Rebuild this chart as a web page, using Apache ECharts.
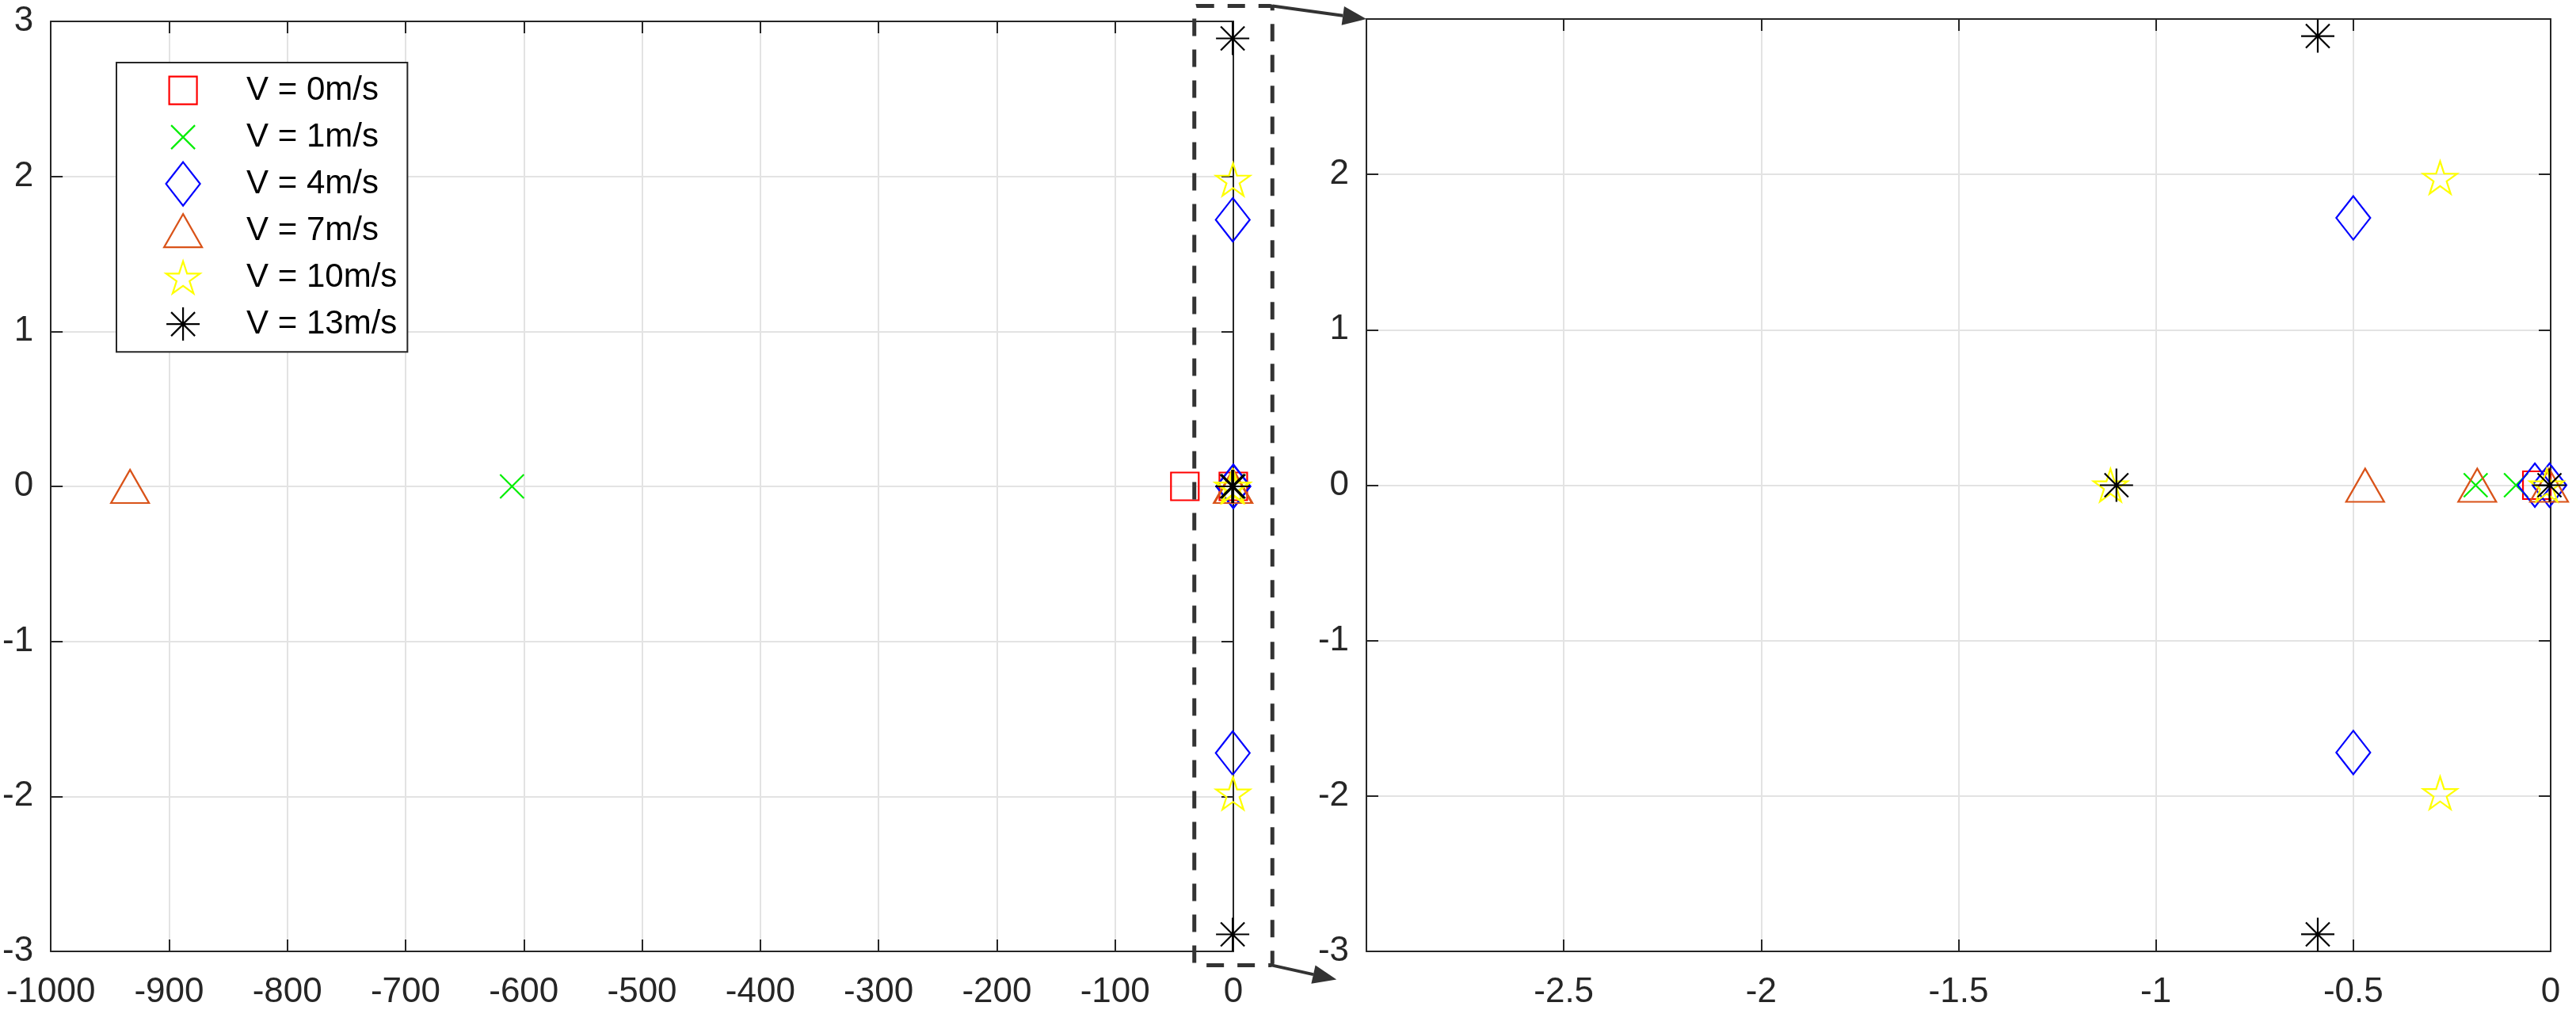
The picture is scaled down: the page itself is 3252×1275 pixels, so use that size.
<!DOCTYPE html>
<html><head><meta charset="utf-8">
<script src="https://cdn.jsdelivr.net/npm/echarts@6/dist/echarts.min.js"></script>
<style>html,body{margin:0;padding:0;background:#fff;overflow:hidden}#c{width:3252px;height:1275px}</style>
</head><body><div id="c"></div>
<script>
// ---------- data ----------
const seriesNames = ['V = 0m/s', 'V = 1m/s', 'V = 4m/s', 'V = 7m/s', 'V = 10m/s', 'V = 13m/s'];
const v0Re = [-41, -0.035];
const v0Im = [0, 0];
const v1Re = [-610, -0.19, -0.088];
const v1Im = [0, 0, 0];
const v4Re = [-0.5, -0.5, -0.04, -0.003];
const v4Im = [1.72, -1.72, 0, 0];
const v7Re = [-933, -0.47, -0.186, -0.004];
const v7Im = [0, 0, 0, 0];
const v10Re = [-1.115, -0.28, -0.28, -0.01];
const v10Im = [0, 1.98, -1.98, 0];
const v13Re = [-1.1, -0.59, -0.59, -0.003];
const v13Im = [0, 2.89, -2.89, 0];
const leftXTicks = [-1000, -900, -800, -700, -600, -500, -400, -300, -200, -100, 0];
const leftYTicks = [-3, -2, -1, 0, 1, 2, 3];
const rightXTicks = [-2.5, -2, -1.5, -1, -0.5, 0];
const rightYTicks = [-3, -2, -1, 0, 1, 2];

// ---------- styles ----------
const colors = ['#ff0000', '#00ee00', '#0000ff', '#d95319', '#ffff00', '#000000'];
const symbols = [
  'rect',
  'path://M0 0L30 30M30 0L0 30',
  'diamond',
  'triangle',
  'path://M50 0L61.23 34.55L97.55 34.55L68.17 55.9L79.39 90.45L50 69.1L20.61 90.45L31.83 55.9L2.45 34.55L38.77 34.55Z',
  'path://M21 0L21 42M0 21L42 21M6 6L36 36M36 6L6 36'
];
const sizes = [35, 30, [43, 55], [48, 42], [43, 41], 42];
const legendIcons = [
  'path://M0 0M56 56M10.5 10.5L45.5 10.5L45.5 45.5L10.5 45.5Z',
  'path://M0 0M56 56M13 13L43 43M43 13L13 43',
  'path://M0 0M56 56M28 0.5L49.5 28L28 55.5L6.5 28Z',
  'path://M0 0M56 56M28 7L52 49L4 49Z',
  'path://M0 0M56 56M28 7.66L33.05 23.21L49.4 23.21L36.18 32.82L41.23 48.36L28 38.76L14.77 48.36L19.82 32.82L6.6 23.21L22.95 23.21Z',
  'path://M0 0M56 56M28 7L28 49M7 28L49 28M13 13L43 43M43 13L13 43'
];
const reArr = [v0Re, v1Re, v4Re, v7Re, v10Re, v13Re];
const imArr = [v0Im, v1Im, v4Im, v7Im, v10Im, v13Im];

const FONT = 'Liberation Sans';
const AX = '#262626';
function fmt(v) { return String(Math.round(v * 100) / 100); }
function inList(list) { return v => list.some(t => Math.abs(t - v) < 1e-9) ? fmt(v) : ''; }

function xAxisCfg(grid, min, max, interval, ticks, pos) {
  const main = pos === 'bottom';
  return {
    type: 'value', gridIndex: grid, min, max, interval, position: pos,
    axisLine: { show: true, onZero: false, lineStyle: { color: AX, width: 2 } },
    axisTick: { show: true, inside: true, length: 15, lineStyle: { color: AX, width: 2 } },
    axisLabel: { show: main, margin: 30, fontFamily: FONT, fontSize: 44, color: AX, formatter: inList(ticks), showMinLabel: true, showMaxLabel: true },
    splitLine: { show: main, lineStyle: { color: '#e3e3e3', width: 2 } }
  };
}
function yAxisCfg(grid, ticks, pos) {
  const main = pos === 'left';
  return {
    type: 'value', gridIndex: grid, min: -3, max: 3, interval: 1, position: pos,
    axisLine: { show: true, onZero: false, lineStyle: { color: AX, width: 2 } },
    axisTick: { show: true, inside: true, length: 15, lineStyle: { color: AX, width: 2 } },
    axisLabel: { show: main, margin: 22, fontFamily: FONT, fontSize: 44, color: AX, formatter: inList(ticks) },
    splitLine: { show: main, lineStyle: { color: '#e3e3e3', width: 2 } }
  };
}

const series = [];
for (let g = 0; g < 2; g++) {
  for (let i = 0; i < seriesNames.length; i++) {
    series.push({
      type: 'scatter', name: seriesNames[i], xAxisIndex: g, yAxisIndex: g,
      data: reArr[i].map((r, k) => [r, imArr[i][k]]),
      symbol: symbols[i], symbolSize: sizes[i], clip: true,
      itemStyle: { color: 'rgba(0,0,0,0)', borderColor: colors[i], borderWidth: 2.2, opacity: 1 },
      emphasis: { disabled: true }, silent: true, animation: false, z: 3
    });
  }
}

const chart = echarts.init(document.getElementById('c'), null, { renderer: 'canvas' });
chart.setOption({
  backgroundColor: '#ffffff',
  animation: false,
  grid: [
    { left: 62, top: 27, width: 1495, height: 1181 },
    { left: 1725, top: 24, width: 1495, height: 1181 }
  ],
  xAxis: [
    xAxisCfg(0, -1000, 0, 100, leftXTicks, 'bottom'),
    xAxisCfg(1, -3, 0, 0.5, rightXTicks, 'bottom'),
    xAxisCfg(0, -1000, 0, 100, leftXTicks, 'top'),
    xAxisCfg(1, -3, 0, 0.5, rightXTicks, 'top')
  ],
  yAxis: [
    yAxisCfg(0, leftYTicks, 'left'),
    yAxisCfg(1, rightYTicks, 'left'),
    yAxisCfg(0, leftYTicks, 'right'),
    yAxisCfg(1, rightYTicks, 'right')
  ],
  legend: {
    orient: 'vertical', left: 147, top: 79, padding: [6, 13, 6, 55],
    itemWidth: 56, itemHeight: 56, itemGap: 0.8,
    backgroundColor: '#ffffff', borderColor: AX, borderWidth: 2, borderRadius: 0,
    selectedMode: false, z: 10,
    textStyle: { fontFamily: FONT, fontSize: 42, color: '#000', padding: [0, 0, 0, 47] },
    data: seriesNames.map((n, i) => ({
      name: n, icon: legendIcons[i],
      itemStyle: { color: 'rgba(0,0,0,0)', borderColor: colors[i], borderWidth: 2.2 }
    }))
  },
  series
});

// ---------- zoom-box decoration ----------
const px = (gi, x, y) => chart.convertToPixel({ xAxisIndex: gi, yAxisIndex: gi }, [x, y]);
const tl = px(0, -33, 3.1), br = px(0, 33, -3.09);
const rTL = px(1, -3, 3);
const bx0 = tl[0], by0 = tl[1], bx1 = br[0], by1 = br[1];
function arrow(x0, y0, x1, y1) {
  const dx = x1 - x0, dy = y1 - y0, L = Math.hypot(dx, dy);
  const ux = dx / L, uy = dy / L, hl = 30, hw = 12;
  const bxp = x1 - ux * hl, byp = y1 - uy * hl;
  return [
    { type: 'line', shape: { x1: x0, y1: y0, x2: bxp, y2: byp }, style: { stroke: '#333', lineWidth: 4 }, z: 20 },
    { type: 'polygon', shape: { points: [[x1, y1], [bxp - uy * hw, byp + ux * hw], [bxp + uy * hw, byp - ux * hw]] }, style: { fill: '#333' }, z: 20 }
  ];
}
chart.setOption({
  graphic: [
    { type: 'rect', shape: { x: bx0, y: by0, width: bx1 - bx0, height: by1 - by0, r: 3 },
      style: { fill: 'none', stroke: '#333', lineWidth: 5, lineDash: [22, 17] }, z: 20 },
    ...arrow(bx1, by0, rTL[0], rTL[1]),
    ...arrow(bx1, by1, bx1 + 81, by1 + 18)
  ]
});
</script></body></html>
